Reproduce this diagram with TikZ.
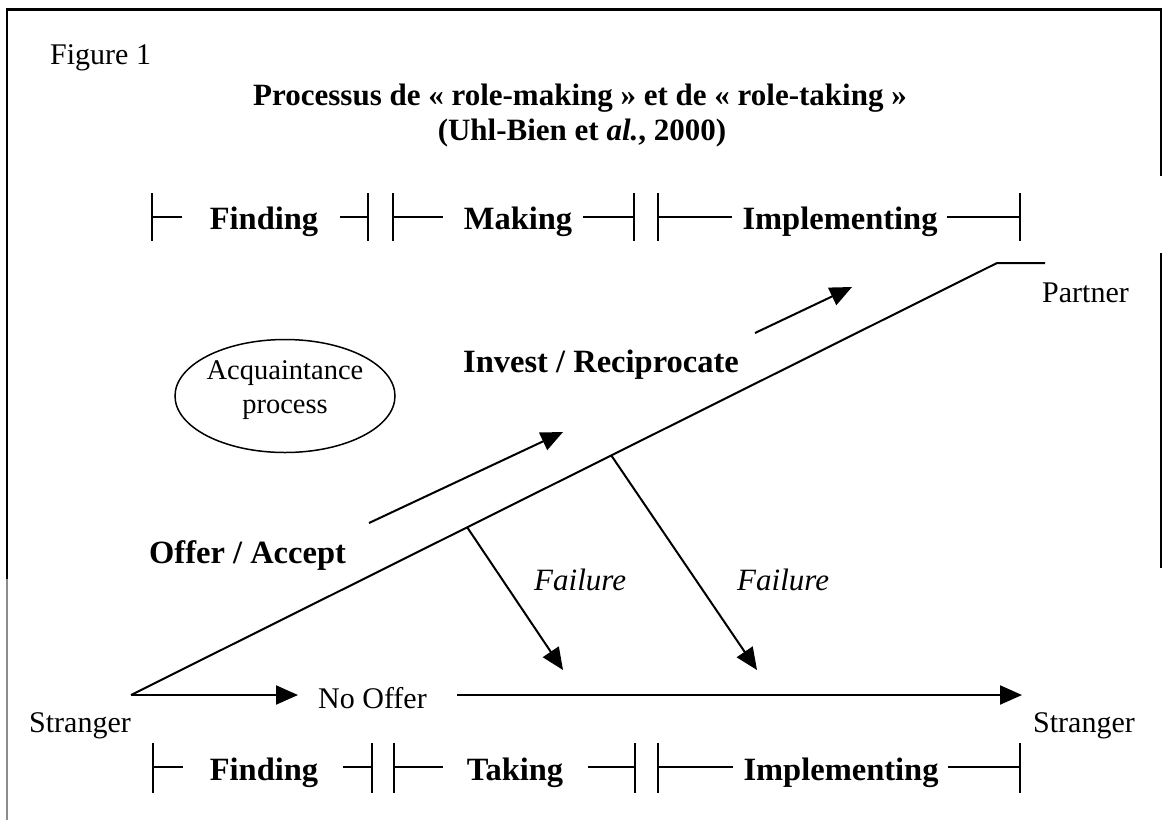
\documentclass[tikz,border=0pt]{standalone}
\usepackage{fontspec}
\setmainfont{Liberation Serif}
\usetikzlibrary{arrows.meta,shapes.geometric}
\begin{document}
\begin{tikzpicture}[x=1pt,y=-1pt,
  rule/.style={line width=2pt},
  flow/.style={line width=2pt,-{Triangle[length=22pt,width=19pt]}},
  lbl/.style={inner sep=0pt,anchor=base west,font=\fontsize{30}{34}\selectfont},
  headline/.style={inner sep=0pt,anchor=base,font=\fontsize{31}{34}\selectfont\bfseries},
  phase/.style={inner sep=0pt,anchor=base,font=\fontsize{32.5}{34}\selectfont\bfseries},
  fail/.style={inner sep=0pt,anchor=base west,font=\fontsize{31}{34}\selectfont\itshape},
]
\useasboundingbox (0,0) rectangle (1167,820);

% frame around the figure
\draw[line width=3pt] (6,9) -- (1162,9);
\draw[line width=2.5pt] (7,9) -- (7,579);
\draw[line width=1.2pt, black!45] (7,579) -- (7,820);
\draw[line width=2.5pt] (1161,9) -- (1161,176);
\draw[line width=2.5pt] (1161,253) -- (1161,568);

% caption and title
\node[lbl] (fig) at (50,64) {Figure 1};
\node[headline] (title1) at (580,105) {Processus de « role-making » et de « role-taking »};
\node[headline] (title2) at (582,140) {(Uhl-Bien et \textit{al.}, 2000)};

% upper phase bar: finding / making / implementing
\draw[rule] (152,193) -- (152,241) (152,217) -- (182,217);
\draw[rule] (340,217) -- (368,217) (368,193) -- (368,241);
\draw[rule] (393,193) -- (393,241) (393,217) -- (443,217);
\draw[rule] (583,217) -- (634,217) (634,193) -- (634,241);
\draw[rule] (658,193) -- (658,241) (658,217) -- (732,217);
\draw[rule] (947,217) -- (1020,217) (1020,193) -- (1020,241);
\node[phase] (tfind) at (264,229) {Finding};
\node[phase] (tmake) at (518,229) {Making};
\node[phase] (timpl) at (840,229) {Implementing};

% lower phase bar: finding / taking / implementing
\draw[rule] (153,743) -- (153,793) (153,767) -- (183,767);
\draw[rule] (343,767) -- (372,767) (372,743) -- (372,793);
\draw[rule] (394,743) -- (394,793) (394,767) -- (443,767);
\draw[rule] (588,767) -- (635,767) (635,743) -- (635,793);
\draw[rule] (658,743) -- (658,793) (658,767) -- (733,767);
\draw[rule] (948,767) -- (1020,767) (1020,743) -- (1020,793);
\node[phase] (bfind) at (264,780) {Finding};
\node[phase] (btake) at (515,780) {Taking};
\node[phase] (bimpl) at (841,780) {Implementing};

% end points
\node[lbl] (strL) at (29,732) {Stranger};
\node[lbl] (strR) at (1033,732) {Stranger};
\node[lbl] (partner) at (1042,302) {Partner};
\node[lbl] (nooffer) at (318,708) {No Offer};

% acquaintance bubble
\node[draw, ellipse, line width=1.5pt, minimum width=220pt, minimum height=113pt,
      inner sep=0pt] (acq) at (285,396) {};
\node[inner sep=0pt, align=center, font=\fontsize{28.5}{34}\selectfont]
      (acqtext) at ([yshift=6pt]acq.center) {Acquaintance\\process};

% stage labels
\node[phase, anchor=base west] (offer) at (149,563) {Offer / Accept};
\node[phase, anchor=base west] (invest) at (463,372) {Invest / Reciprocate};
\node[fail] (fail1) at (534,590) {Failure};
\node[fail] (fail2) at (737,590) {Failure};

% role trajectory from stranger to partner
\coordinate (s0) at (131,695);
\coordinate (p0) at (997,263);
\coordinate (p1) at (1045,263);
\draw[line width=2pt] (s0) -- (p0) -- (p1);

% no-offer path
\coordinate (n0) at (298,695);
\coordinate (n1) at (457,695);
\coordinate (e1) at (1022,695);
\draw[flow] (s0) -- (n0);
\draw[flow] (n1) -- (e1);

% progress arrows along the trajectory
\coordinate (o0) at (369,523);
\coordinate (o1) at (563,432);
\coordinate (i0) at (755,333);
\coordinate (i1) at (852,287);
\draw[flow] (o0) -- (o1);
\draw[flow] (i0) -- (i1);

% failure branches
\coordinate (j1) at (467,527);
\coordinate (t1) at (563,670);
\coordinate (j2) at (611,455);
\coordinate (t2) at (757,670);
\draw[flow] (j1) -- (t1);
\draw[flow] (j2) -- (t2);
\end{tikzpicture}
\end{document}
